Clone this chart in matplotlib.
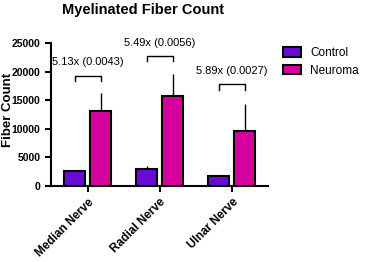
import numpy as np
import matplotlib.pyplot as plt

plt.rcParams['font.family'] = ['Liberation Sans', 'DejaVu Sans']

nerves = ['Median Nerve', 'Radial Nerve', 'Ulnar Nerve']
control = [2630, 2930, 1700]
control_err = [200, 570, 100]
neuroma = [13160, 15740, 9600]
neuroma_err = [3040, 3860, 4730]
fold_labels = ['5.13x (0.0043)', '5.49x (0.0056)', '5.89x (0.0027)']
bracket_y = [19300, 22750, 17790]

fig = plt.figure(figsize=(3.66, 2.62), dpi=100)
ax = fig.add_axes([0.139, 0.291, 0.593, 0.544])

x = np.arange(len(nerves))
off = 0.18
w = 0.29
ax.bar(x - off, control, w, color='#6A0AD8', edgecolor='black', linewidth=1.5,
       label='Control', zorder=3)
ax.bar(x + off, neuroma, w, color='#D6009C', edgecolor='black', linewidth=1.5,
       label='Neuroma', zorder=3)
ax.errorbar(x - off, control, yerr=[np.zeros(3), control_err], fmt='none',
            ecolor='black', elinewidth=1, capsize=0, zorder=2)
ax.errorbar(x + off, neuroma, yerr=[np.zeros(3), neuroma_err], fmt='none',
            ecolor='black', elinewidth=1, capsize=0, zorder=2)

# significance brackets
for i, (y, lab) in enumerate(zip(bracket_y, fold_labels)):
    leg = 950
    ax.plot([i - off, i - off, i + off, i + off], [y - leg, y, y, y - leg],
            color='black', lw=1, clip_on=False)
    ax.text(i, y + 1500, lab, ha='center', va='bottom', fontsize=8,
            clip_on=False)

ax.set_xlim(-0.51, 2.5)
ax.set_ylim(0, 25000)
ax.set_yticks([0, 5000, 10000, 15000, 20000, 25000])
ax.set_xticks(x)
ax.set_xticklabels(nerves, rotation=45, ha='right', rotation_mode='anchor',
                   fontweight='bold', fontsize=8.5)
for t in ax.get_yticklabels():
    t.set_fontweight('bold')
ax.tick_params(axis='y', labelsize=7.5, width=1.5, length=4)
ax.tick_params(axis='x', width=1.5, length=4)
ax.spines['top'].set_visible(False)
ax.spines['right'].set_visible(False)
ax.spines['left'].set_linewidth(1.5)
ax.spines['bottom'].set_linewidth(1.5)
ax.set_ylabel('Fiber Count', fontweight='bold', fontsize=9.5)
ax.yaxis.set_label_coords(-0.172, 0.53)

fig.text(0.39, 0.96, 'Myelinated Fiber Count', ha='center', va='center',
         fontweight='bold', fontsize=10.5)

ax.legend(loc='upper left', bbox_to_anchor=(1.02, 1.05), frameon=False,
          fontsize=8.5, handlelength=1.5, handleheight=0.9)

fig.savefig('out.png', dpi=100)
